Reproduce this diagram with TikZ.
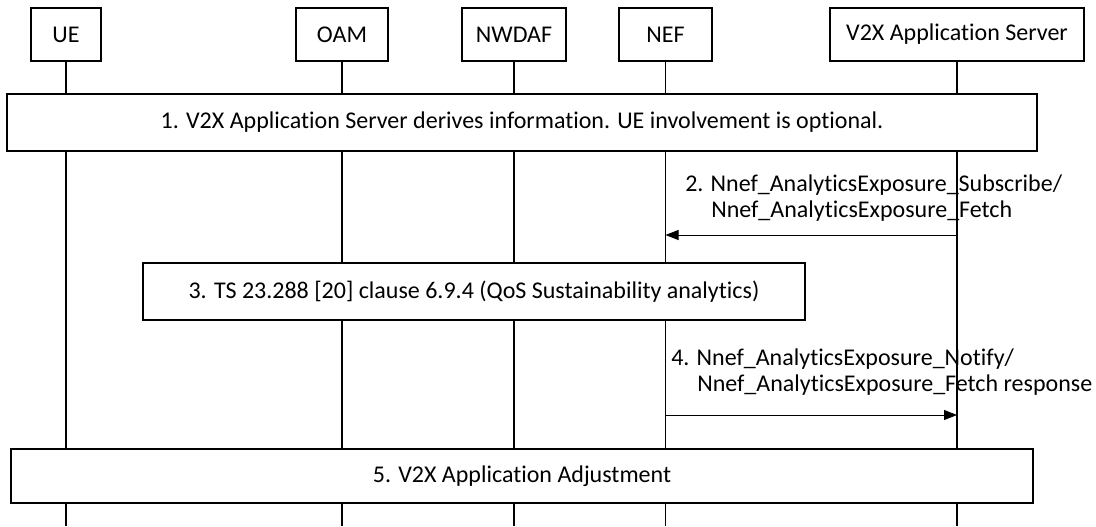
\documentclass[tikz,border=0pt]{standalone}
\usepackage{fontspec}
\setmainfont{Carlito}[Ligatures={NoCommon}]
\usetikzlibrary{arrows.meta}

\tikzset{
	entity/.style={draw, line width=0.8pt, fill=white, inner sep=0pt, minimum height=39.75pt},
	stepbox/.style={draw, line width=0.8pt, fill=white, inner sep=0pt},
	lifeline/.style={line width=0.8pt},
	msgline/.style={line width=0.6pt, -{Triangle[length=9.75pt, width=7.5pt]}},
	msglabel/.style={anchor=west, align=left, inner sep=0pt}
}

\begin{document}
\begin{tikzpicture}[x=0.75pt, y=-0.75pt, font=\fontsize{18}{21.6}\selectfont]
			%%%%% START %%%%%
			\useasboundingbox (0,0) rectangle (1096,526);
			\coordinate (bottom) at (0,526);
			
			% entities
			\node[entity, minimum width=52.5pt] (ue) at (66,34.5) {UE};
			\node[entity, minimum width=69pt] (oam) at (342,34.5) {OAM};
			\node[entity, minimum width=78pt] (nwdaf) at (514,34.5) {NWDAF};
			\node[entity, minimum width=69.75pt] (nef) at (665.5,34.5) {NEF};
			\node[entity, minimum width=190.5pt] (as) at (957,34.5) {V2X Application Server};
			
			% lifelines
			\foreach \e in {ue,oam,nwdaf,nef,as}
				\draw[lifeline] (\e.south) -- (\e.south |- bottom);
			
			% steps
			\node[stepbox, minimum width=772.5pt, minimum height=42.75pt] (s1) at (522,122.5)
				{1. V2X Application Server derives information. UE involvement is optional.};
			
			\coordinate (y2) at (0,235);
			\draw[msgline] (as |- y2) -- (nef |- y2);
			\node[msglabel] (l2) at (685,198)
				{2. Nnef\_AnalyticsExposure\_Subscribe/\\[-1.5pt]\hspace*{19.5pt}Nnef\_AnalyticsExposure\_Fetch};
			
			\node[stepbox, minimum width=496.5pt, minimum height=42.75pt] (s3) at (474,291.5)
				{3. TS 23.288 [20] clause 6.9.4 (QoS Sustainability analytics)};
			
			\coordinate (y4) at (0,415);
			\draw[msgline] (nef |- y4) -- (as |- y4);
			\node[msglabel] (l4) at (671,372)
				{4. Nnef\_AnalyticsExposure\_Notify/\\[-1.5pt]\hspace*{19.5pt}Nnef\_AnalyticsExposure\_Fetch response};
			
			\node[stepbox, minimum width=766.5pt, minimum height=40.5pt] (s5) at (522,476)
				{5. V2X Application Adjustment};
			%%%%% END %%%%%
\end{tikzpicture}
\end{document}
